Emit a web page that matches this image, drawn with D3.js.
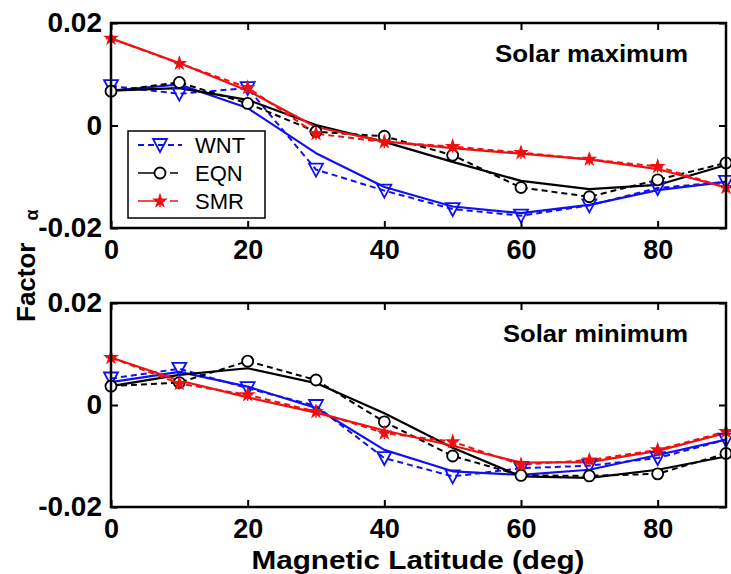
<!DOCTYPE html>
<html>
<head>
<meta charset="utf-8">
<script src="https://cdn.jsdelivr.net/npm/d3@7"></script>
<style>
  body { margin: 0; background: #fff; }
  svg text { font-family: Arial, "Liberation Sans", sans-serif; }
</style>
</head>
<body>
<div class="chart"></div>
<script>
// magnetic latitude (deg)
var latitudes = [0, 10, 20, 30, 40, 50, 60, 70, 80, 90];

// Solar maximum - data points (dashed) and fitted curves (solid)
var maxWnt    = [0.0077, 0.0062, 0.0073, -0.0086, -0.0127, -0.0163, -0.0176, -0.0156, -0.0122, -0.0110];
var maxWntFit = [0.0068, 0.0080, 0.0034, -0.0054, -0.0120, -0.0158, -0.0171, -0.0155, -0.0126, -0.0110];
var maxEqn    = [0.0067, 0.0084, 0.0043, -0.0012, -0.0021, -0.0058, -0.0121, -0.0139, -0.0106, -0.0073];
var maxEqnFit = [0.0068, 0.0073, 0.0050, 0.0001, -0.0032, -0.0071, -0.0108, -0.0124, -0.0116, -0.0077];
var maxSmr    = [0.0170, 0.0121, 0.0074, -0.0016, -0.0032, -0.0041, -0.0053, -0.0066, -0.0080, -0.0121];
var maxSmrFit = [0.0170, 0.0122, 0.0068, -0.0003, -0.0031, -0.0044, -0.0055, -0.0066, -0.0085, -0.0121];

// Solar minimum
var minWnt    = [0.0052, 0.0071, 0.0033, -0.0002, -0.0104, -0.0140, -0.0124, -0.0119, -0.0104, -0.0068];
var minWntFit = [0.0045, 0.0065, 0.0036, -0.0006, -0.0088, -0.0130, -0.0137, -0.0127, -0.0098, -0.0068];
var minEqn    = [0.0037, 0.0044, 0.0086, 0.0049, -0.0033, -0.0100, -0.0138, -0.0139, -0.0135, -0.0095];
var minEqnFit = [0.0037, 0.0059, 0.0072, 0.0043, -0.0016, -0.0084, -0.0140, -0.0143, -0.0127, -0.0101];
var minSmr    = [0.0093, 0.0042, 0.0020, -0.0013, -0.0055, -0.0072, -0.0117, -0.0108, -0.0088, -0.0052];
var minSmrFit = [0.0093, 0.0048, 0.0015, -0.0015, -0.0050, -0.0080, -0.0113, -0.0112, -0.0090, -0.0055];

var xTicks = [0, 20, 40, 60, 80];
var yTicks = [-0.02, 0, 0.02];

var seriesNames = ["WNT", "EQN", "SMR"];
var seriesColors = { WNT: "#1010f0", EQN: "#000", SMR: "#f01010" };

var svgWidth = 731, svgHeight = 574;
var plotLeft = 111, plotRight = 726;

var svg = d3.select(".chart").append("svg")
  .attr("width", svgWidth)
  .attr("height", svgHeight);

var x = d3.scaleLinear().domain([0, 90]).range([plotLeft, plotRight]);

// draw one marker of a series at (px,py)
function drawMarker(g, name, px, py) {
  var c = seriesColors[name];
  if (name == "WNT") {
    g.append("path")
      .attr("d", `M${px - 7},${py - 6}L${px + 7},${py - 6}L${px},${py + 7}Z`)
      .attr("fill", "none").attr("stroke", c).attr("stroke-width", 1.8);
  } else if (name == "EQN") {
    g.append("circle").attr("cx", px).attr("cy", py).attr("r", 5.5)
      .attr("fill", "#fff").attr("stroke", c).attr("stroke-width", 1.8);
  } else {
    g.append("path")
      .attr("d", d3.symbol(d3.symbolStar, 40)())
      .attr("transform", `translate(${px},${py})`)
      .attr("fill", c).attr("stroke", c).attr("stroke-width", 1.5);
    g.append("path")
      .attr("d", `M${px - 5},${py}L${px + 5},${py}M${px},${py - 6}L${px},${py + 6}`)
      .attr("stroke", c).attr("stroke-width", 1.5);
  }
}

function drawPanel(top, bottom, title, data) {
  var y = d3.scaleLinear().domain([-0.02, 0.02]).range([bottom, top]);
  var g = svg.append("g");

  var lineGen = d3.line()
    .x((d, i) => x(latitudes[i]))
    .y(d => y(d));

  var lines = g.append("g");
  seriesNames.forEach(function(name) {
    var c = seriesColors[name];
    // fitted curve, solid
    lines.append("path")
      .attr("d", lineGen(data[name].fit))
      .attr("fill", "none").attr("stroke", c).attr("stroke-width", 2.2)
      .attr("stroke-linejoin", "round");
    // data, dashed
    lines.append("path")
      .attr("d", lineGen(data[name].pts))
      .attr("fill", "none").attr("stroke", c).attr("stroke-width", 2)
      .attr("stroke-dasharray", "6,4");
  });
  seriesNames.forEach(function(name) {
    data[name].pts.forEach(function(v, i) {
      drawMarker(lines, name, x(latitudes[i]), y(v));
    });
  });

  // frame
  g.append("rect")
    .attr("x", plotLeft).attr("y", top)
    .attr("width", plotRight - plotLeft).attr("height", bottom - top)
    .attr("fill", "none").attr("stroke", "#000").attr("stroke-width", 2.5);

  var fmt = d => d == 0 ? "0" : d.toFixed(2);

  var bottomAxis = g.append("g")
    .attr("transform", `translate(0, ${bottom})`)
    .call(d3.axisBottom(x).tickValues(xTicks).tickSize(-7).tickPadding(12));
  var topAxis = g.append("g")
    .attr("transform", `translate(0, ${top})`)
    .call(d3.axisTop(x).tickValues(xTicks).tickSize(-7).tickFormat(""));
  var leftAxis = g.append("g")
    .attr("transform", `translate(${plotLeft}, 0)`)
    .call(d3.axisLeft(y).tickValues(yTicks).tickSize(-7).tickPadding(9).tickFormat(fmt));
  var rightAxis = g.append("g")
    .attr("transform", `translate(${plotRight}, 0)`)
    .call(d3.axisRight(y).tickValues(yTicks).tickSize(-7).tickFormat(""));

  [bottomAxis, topAxis, leftAxis, rightAxis].forEach(function(a) {
    a.select(".domain").remove();
    a.selectAll("line").attr("stroke", "#000").attr("stroke-width", 2);
    a.selectAll("text")
      .attr("fill", "#000")
      .attr("font-size", "28px")
      .attr("font-weight", "bold");
  });
  bottomAxis.selectAll("text").attr("font-size", "27px");

  g.append("text")
    .attr("x", plotRight - 38).attr("y", top + 39)
    .attr("text-anchor", "end")
    .attr("font-size", "23px")
    .attr("font-weight", "bold")
    .attr("textLength", title == "Solar maximum" ? 193 : 185)
    .attr("lengthAdjust", "spacingAndGlyphs")
    .text(title);

  return y;
}

drawPanel(23, 228, "Solar maximum", {
  WNT: { pts: maxWnt, fit: maxWntFit },
  EQN: { pts: maxEqn, fit: maxEqnFit },
  SMR: { pts: maxSmr, fit: maxSmrFit }
});

drawPanel(303, 507, "Solar minimum", {
  WNT: { pts: minWnt, fit: minWntFit },
  EQN: { pts: minEqn, fit: minEqnFit },
  SMR: { pts: minSmr, fit: minSmrFit }
});

// legend box
var legend = svg.append("g");
legend.append("rect")
  .attr("x", 128).attr("y", 131).attr("width", 137).attr("height", 87)
  .attr("fill", "#fff").attr("stroke", "#000").attr("stroke-width", 1.5);

seriesNames.forEach(function(name, i) {
  var ly = 145 + i * 28;
  var c = seriesColors[name];
  var row = legend.append("g");
  if (name == "WNT") {
    row.append("line").attr("x1", 138).attr("x2", 182).attr("y1", ly).attr("y2", ly)
      .attr("stroke", c).attr("stroke-width", 2).attr("stroke-dasharray", "6,4");
  } else {
    row.append("line").attr("x1", 138).attr("x2", 160).attr("y1", ly).attr("y2", ly)
      .attr("stroke", c).attr("stroke-width", 1.5);
    row.append("line").attr("x1", 170).attr("x2", 178).attr("y1", ly).attr("y2", ly)
      .attr("stroke", c).attr("stroke-width", 1.5);
  }
  drawMarker(row, name, 160, ly);
  row.append("text")
    .attr("x", 195).attr("y", ly + 8)
    .attr("font-size", "22px")
    .text(name);
});

// axis titles
svg.append("text")
  .attr("x", 418).attr("y", 568.5)
  .attr("text-anchor", "middle")
  .attr("font-size", "26px")
  .attr("font-weight", "bold")
  .attr("textLength", 333)
  .attr("lengthAdjust", "spacingAndGlyphs")
  .text("Magnetic Latitude (deg)");

var yTitle = svg.append("text")
  .attr("transform", "translate(35, 322) rotate(-90)")
  .attr("font-size", "26px")
  .attr("font-weight", "bold");
yTitle.append("tspan").text("Factor");
yTitle.append("tspan").attr("dx", 22).attr("dy", 3).attr("font-size", "18px").text("α");
</script>
</body>
</html>
